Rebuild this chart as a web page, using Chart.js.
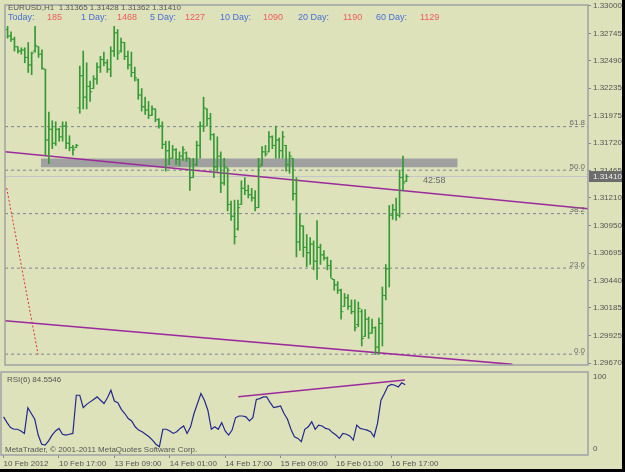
<!DOCTYPE html>
<html>
<head>
<meta charset="utf-8">
<script src="https://cdn.jsdelivr.net/npm/chart.js@4.4.1/dist/chart.umd.min.js"></script>
<style>
    body { margin: 0; background: #000; }
    #wrap { position: relative; width: 622px; height: 469px; background: #dde2ba; overflow: hidden; font-family: "Liberation Sans", Arial, sans-serif; }
    canvas { position: absolute; left: 0; }
    #mainChart { top: 0; }
    #rsiChart { top: 370px; }
    .t { position: absolute; white-space: nowrap; font-size: 8px; line-height: 8px; color: #555; }
    .b { color: #4a6fd6; font-size: 9px; line-height: 9px; }
    .r { color: #ee5c5c; font-size: 9px; line-height: 9px; }
</style>
</head>
<body>
<div id="wrap">
    <canvas id="mainChart" width="622" height="370"></canvas>
    <canvas id="rsiChart" width="622" height="99"></canvas>

    <div class="t" id="header" style="left:8px; top:4px;"></div>
    <div class="t b" style="left:8px; top:13px;">Today:</div>
    <div class="t r" style="left:47px; top:13px;">185</div>
    <div class="t b" style="left:81px; top:13px;">1 Day:</div>
    <div class="t r" style="left:117px; top:13px;">1468</div>
    <div class="t b" style="left:150px; top:13px;">5 Day:</div>
    <div class="t r" style="left:185px; top:13px;">1227</div>
    <div class="t b" style="left:220px; top:13px;">10 Day:</div>
    <div class="t r" style="left:263px; top:13px;">1090</div>
    <div class="t b" style="left:298px; top:13px;">20 Day:</div>
    <div class="t r" style="left:343px; top:13px;">1190</div>
    <div class="t b" style="left:376px; top:13px;">60 Day:</div>
    <div class="t r" style="left:420px; top:13px;">1129</div>

    <div class="t" style="left:423px; top:176px; font-size:9px; color:#6a6a6a;">42:58</div>

    <div class="t" id="rsiTitle" style="left:7px; top:376px;"></div>
    <div class="t" style="left:593px; top:373px;">100</div>
    <div class="t" style="left:593px; top:445px;">0</div>
    <div class="t" style="left:5px; top:446px;">MetaTrader, © 2001-2011 MetaQuotes Software Corp.</div>
</div>

<script>
// EURUSD H1, one entry per bar
var opens = [
    1.3278, 1.3272, 1.3269, 1.3262, 1.3258, 1.3259, 1.3252, 1.3245, 1.3258, 1.3262,
    1.3255, 1.3241, 1.3175, 1.3185, 1.3172, 1.3185, 1.3178, 1.3188, 1.3172, 1.3168,
    1.3168, 1.3205, 1.3235, 1.3215, 1.3225, 1.3223, 1.3232, 1.3243, 1.3250, 1.3247,
    1.3241, 1.3258, 1.3275, 1.3258, 1.3266, 1.3253, 1.3245, 1.3238, 1.3231, 1.3217,
    1.3206, 1.3203, 1.3198, 1.3204, 1.3194, 1.3188, 1.3171, 1.3165, 1.3158, 1.3166,
    1.3157, 1.3160, 1.3163, 1.3158, 1.3140, 1.3152, 1.3170, 1.3188, 1.3204, 1.3195,
    1.3180, 1.3150, 1.3160, 1.3135, 1.3149, 1.3115, 1.3104, 1.3092, 1.3115, 1.3130,
    1.3128, 1.3124, 1.3121, 1.3112, 1.3152, 1.3164, 1.3164, 1.3178, 1.3170, 1.3175,
    1.3165, 1.3170, 1.3152, 1.3158, 1.3125, 1.3080, 1.3095, 1.3075, 1.3070, 1.3078,
    1.3062, 1.3075, 1.3068, 1.3065, 1.3058, 1.3045, 1.3040, 1.3035, 1.3020, 1.3028,
    1.3020, 1.3015, 1.3003, 1.3015, 1.2992, 1.3008, 1.2995, 1.3000, 1.2982, 1.3004,
    1.3030, 1.3055, 1.3105, 1.3110, 1.3105, 1.3140, 1.31365
];
var highs = [
    1.3281, 1.3276, 1.3271, 1.3262, 1.3261, 1.3261, 1.3266, 1.3257, 1.3281, 1.3262,
    1.3259, 1.3241, 1.3201, 1.3193, 1.3192, 1.3186, 1.3192, 1.3192, 1.3179, 1.3170,
    1.3171, 1.3244, 1.3258, 1.3247, 1.3230, 1.3235, 1.3247, 1.3253, 1.3257, 1.3250,
    1.3262, 1.3281, 1.3278, 1.3270, 1.3266, 1.3258, 1.3257, 1.3243, 1.3232, 1.3223,
    1.3215, 1.3211, 1.3207, 1.3204, 1.3195, 1.3192, 1.3174, 1.3174, 1.3170, 1.3167,
    1.3164, 1.3169, 1.3164, 1.3158, 1.3158, 1.3174, 1.3192, 1.3215, 1.3204, 1.3200,
    1.3181, 1.3178, 1.3164, 1.3158, 1.3149, 1.3118, 1.3119, 1.3119, 1.3137, 1.3140,
    1.3133, 1.3130, 1.3128, 1.3158, 1.3169, 1.3170, 1.3183, 1.3179, 1.3188, 1.3177,
    1.3183, 1.3170, 1.3164, 1.3158, 1.3140, 1.3106, 1.3095, 1.3087, 1.3084, 1.3081,
    1.3100, 1.3078, 1.3072, 1.3066, 1.3063, 1.3045, 1.3043, 1.3036, 1.3032, 1.3031,
    1.3026, 1.3026, 1.3024, 1.3017, 1.3017, 1.3010, 1.3008, 1.3001, 1.3009, 1.3038,
    1.3059, 1.3114, 1.3115, 1.3121, 1.3147, 1.3160, 1.31428
];
var lows = [
    1.3270, 1.3267, 1.3258, 1.3256, 1.3255, 1.3247, 1.3238, 1.3236, 1.3257, 1.3252,
    1.3241, 1.3161, 1.3153, 1.3167, 1.3170, 1.3174, 1.3174, 1.3167, 1.3165, 1.3161,
    1.3168, 1.3200, 1.3204, 1.3204, 1.3211, 1.3223, 1.3227, 1.3238, 1.3244, 1.3238,
    1.3234, 1.3253, 1.3250, 1.3257, 1.3250, 1.3241, 1.3234, 1.3230, 1.3213, 1.3202,
    1.3199, 1.3195, 1.3198, 1.3192, 1.3186, 1.3167, 1.3146, 1.3152, 1.3158, 1.3152,
    1.3151, 1.3156, 1.3155, 1.3128, 1.3140, 1.3151, 1.3158, 1.3183, 1.3188, 1.3175,
    1.3140, 1.3146, 1.3126, 1.3133, 1.3109, 1.3100, 1.3078, 1.3091, 1.3115, 1.3124,
    1.3121, 1.3118, 1.3109, 1.3112, 1.3151, 1.3160, 1.3164, 1.3167, 1.3158, 1.3158,
    1.3158, 1.3146, 1.3144, 1.3119, 1.3066, 1.3072, 1.3066, 1.3057, 1.3059, 1.3054,
    1.3045, 1.3059, 1.3063, 1.3054, 1.3047, 1.3035, 1.3032, 1.3008, 1.3020, 1.3017,
    1.3013, 1.2997, 1.3001, 1.2983, 1.2992, 1.2990, 1.2995, 1.2975, 1.2976, 1.2983,
    1.3026, 1.3038, 1.3101, 1.3100, 1.3103, 1.3128, 1.31362
];
var closes = [
    1.3272, 1.3269, 1.3262, 1.3258, 1.3259, 1.3252, 1.3245, 1.3256, 1.3263, 1.3255,
    1.3242, 1.3175, 1.3185, 1.3172, 1.3185, 1.3178, 1.3188, 1.3172, 1.3168, 1.3166,
    1.3170, 1.3235, 1.3215, 1.3225, 1.3220, 1.3232, 1.3243, 1.3250, 1.3247, 1.3241,
    1.3258, 1.3275, 1.3256, 1.3266, 1.3253, 1.3245, 1.3238, 1.3233, 1.3217, 1.3206,
    1.3203, 1.3198, 1.3204, 1.3194, 1.3188, 1.3171, 1.3165, 1.3158, 1.3166, 1.3157,
    1.3160, 1.3166, 1.3158, 1.3140, 1.3152, 1.3170, 1.3188, 1.3205, 1.3195, 1.3180,
    1.3150, 1.3160, 1.3135, 1.3150, 1.3115, 1.3104, 1.3085, 1.3112, 1.3130, 1.3128,
    1.3124, 1.3121, 1.3112, 1.3150, 1.3164, 1.3162, 1.3178, 1.3170, 1.3175, 1.3165,
    1.3178, 1.3152, 1.3160, 1.3125, 1.3080, 1.3095, 1.3075, 1.3070, 1.3078, 1.3062,
    1.3075, 1.3068, 1.3065, 1.3058, 1.3046, 1.3040, 1.3035, 1.3015, 1.3028, 1.3020,
    1.3015, 1.3000, 1.3018, 1.2990, 1.3008, 1.2995, 1.3000, 1.2982, 1.3004, 1.3030,
    1.3055, 1.3105, 1.3110, 1.3105, 1.3140, 1.3135, 1.31410
];
var rsiValues = [
    46, 39, 33, 31, 31, 29, 26, 57, 50, 43,
    24, 13, 12, 17, 24, 29, 32, 25, 24, 25,
    26, 72, 72, 57, 61, 64, 67, 70, 66, 62,
    69, 78, 65, 63, 55, 50, 44, 41, 34, 30,
    28, 25, 22, 18, 13, 10, 31, 31, 29, 26,
    28, 32, 35, 26, 34, 50, 62, 74, 66, 54,
    31, 34, 31, 39, 29, 24, 30, 45, 47, 47,
    46, 41, 45, 67, 68, 70, 70, 63, 57, 58,
    59, 50, 43, 31, 22, 20, 16, 31, 34, 40,
    31, 36, 35, 32, 31, 27, 24, 20, 26, 25,
    23, 18, 36, 32, 31, 30, 28, 22, 38, 66,
    74, 83, 85, 84, 82, 87, 84.5546
];

var priceTicks = [1.33000, 1.32745, 1.32490, 1.32235, 1.31975, 1.31720, 1.31465,
    1.31210, 1.30950, 1.30695, 1.30440, 1.30185, 1.29925, 1.29670];
var dateTicks = [0, 16, 32, 48, 64, 80, 96, 112];
var dateLabels = ['10 Feb 2012', '10 Feb 17:00', '13 Feb 09:00', '14 Feb 01:00',
    '14 Feb 17:00', '15 Feb 09:00', '16 Feb 01:00', '16 Feb 17:00'];

var fibLevels = [0.0, 23.6, 38.2, 50.0, 61.8];
var fibPrices = [1.29754, 1.30556, 1.31064, 1.31469, 1.31875];

// drawn objects: [bar index, price] end points
var upperTrend = [[-0.75, 1.31640], [168.8, 1.31110]];
var lowerTrend = [[-0.75, 1.30066], [146.8, 1.29659]];
var fibAnchor = [[-0.26, 1.31303], [8.87, 1.29752]];
var rsiTrend = [[67.8, 70.2], [115.9, 90.4]];
var zoneX = [9.65, 130.9];
var zoneTop = 1.31579;
var zoneBottom = 1.31497;

var xMin = -0.75, xMax = 168.8;
var priceMin = 1.29653, priceMax = 1.33009;

var green = '#359a35';
var purple = '#9c2a9c';
var frameColor = '#9ea2a6';
var textColor = '#555';
var font = '"Liberation Sans", Arial, sans-serif';

Chart.defaults.font.family = font;
Chart.defaults.font.size = 8;
Chart.defaults.animation = false;

var last = closes.length - 1;
document.getElementById('header').innerHTML = 'EURUSD,H1&nbsp;&nbsp;' +
    [opens[last], highs[last], lows[last], closes[last]].map(function (v) { return v.toFixed(5); }).join(' ');
document.getElementById('rsiTitle').textContent = 'RSI(6) ' + rsiValues[last].toFixed(4);

function seg(points) {
    return points.map(function (p) { return { x: p[0], y: p[1] }; });
}

function flatLine(y) {
    return [{ x: xMin, y: y }, { x: xMax, y: y }];
}

var frame = {
    id: 'frame',
    afterDraw: function (chart) {
        var a = chart.chartArea, ctx = chart.ctx;
        ctx.save();
        ctx.strokeStyle = frameColor;
        ctx.lineWidth = 1.5;
        ctx.strokeRect(a.left, a.top, a.right - a.left, a.bottom - a.top);
        ctx.restore();
    }
};

var mainOverlay = {
    id: 'mainOverlay',
    afterDraw: function (chart) {
        var ctx = chart.ctx, a = chart.chartArea, y = chart.scales.y;
        ctx.save();
        ctx.font = '8px ' + font;
        ctx.fillStyle = '#6a6a6a';
        ctx.textAlign = 'right';
        ctx.textBaseline = 'alphabetic';
        fibLevels.forEach(function (lv, k) {
            ctx.fillText(lv.toFixed(1), a.right - 3, y.getPixelForValue(fibPrices[k]) - 1.5);
        });

        var py = y.getPixelForValue(closes[last]);
        ctx.fillStyle = '#6c6c6c';
        ctx.fillRect(a.right + 1, py - 5.5, chart.width - a.right - 1, 11);
        ctx.fillStyle = '#f2f2f2';
        ctx.textAlign = 'left';
        ctx.textBaseline = 'middle';
        ctx.fillText(closes[last].toFixed(5), a.right + 5, py + 0.5);
        ctx.restore();
    }
};

var barData = lows.map(function (l, i) { return { x: i, y: [l, highs[i]] }; });
var openTicks = opens.map(function (v, i) { return { x: i - 0.3, y: v }; });
var closeTicks = closes.map(function (v, i) { return { x: i + 0.3, y: v }; });

var fibSets = fibPrices.map(function (p) {
    return {
        type: 'line', data: flatLine(p), borderColor: '#7d8490', borderWidth: 1,
        borderDash: [3, 3], pointRadius: 0, order: 6
    };
});

new Chart(document.getElementById('mainChart'), {
    type: 'bar',
    data: {
        datasets: [
            { type: 'scatter', data: openTicks, pointStyle: 'line', radius: 1.2, borderColor: green, borderWidth: 1, order: 0 },
            { type: 'scatter', data: closeTicks, pointStyle: 'line', radius: 1.2, borderColor: green, borderWidth: 1, order: 0 },
            { type: 'bar', data: barData, backgroundColor: green, barThickness: 1, borderWidth: 0, order: 1 },
            { type: 'line', data: seg(upperTrend), borderColor: purple, borderWidth: 1.5, pointRadius: 0, order: 2 },
            { type: 'line', data: seg(lowerTrend), borderColor: purple, borderWidth: 1.5, pointRadius: 0, order: 2 },
            { type: 'line', data: seg(fibAnchor), borderColor: '#e03030', borderWidth: 1, borderDash: [2, 2], pointRadius: 0, order: 3 },
            { type: 'line', data: flatLine(closes[last]), borderColor: '#c2c6c8', borderWidth: 1, pointRadius: 0, order: 4 },
            {
                type: 'line', data: [{ x: zoneX[0], y: zoneTop }, { x: zoneX[1], y: zoneTop }],
                borderWidth: 0, pointRadius: 0, fill: { value: zoneBottom },
                backgroundColor: '#a0a0a0', order: 7
            }
        ].concat(fibSets)
    },
    options: {
        responsive: false,
        events: [],
        layout: { padding: { left: 1, top: 5, bottom: 1, right: 0 } },
        plugins: { legend: { display: false }, tooltip: { enabled: false } },
        scales: {
            x: { type: 'linear', display: false, min: xMin, max: xMax, offset: false },
            y: {
                position: 'right', min: priceMin, max: priceMax,
                afterBuildTicks: function (s) {
                    s.ticks = priceTicks.map(function (v) { return { value: v }; });
                },
                afterFit: function (s) { s.width = 34; s.paddingTop = 0; s.paddingBottom = 0; },
                ticks: {
                    color: textColor, padding: 2, font: { size: 8 },
                    callback: function (v) { return v.toFixed(5); }
                },
                grid: { drawOnChartArea: false, tickLength: 3, color: '#888' },
                border: { display: false }
            }
        }
    },
    plugins: [frame, mainOverlay]
});

new Chart(document.getElementById('rsiChart'), {
    type: 'line',
    data: {
        datasets: [
            {
                data: rsiValues.map(function (v, i) { return { x: i, y: v }; }),
                borderColor: '#23288f', borderWidth: 1.2, pointRadius: 0, tension: 0
            },
            { data: seg(rsiTrend), borderColor: purple, borderWidth: 1.5, pointRadius: 0 }
        ]
    },
    options: {
        responsive: false,
        events: [],
        layout: { padding: { left: 1, top: 2, right: 34, bottom: 0 } },
        plugins: { legend: { display: false }, tooltip: { enabled: false } },
        scales: {
            x: {
                type: 'linear', min: xMin, max: xMax, offset: false,
                afterBuildTicks: function (s) {
                    s.ticks = dateTicks.map(function (v) { return { value: v }; });
                },
                afterFit: function (s) { s.height = 14; s.paddingLeft = 0; s.paddingRight = 0; },
                ticks: {
                    color: textColor, padding: 1, align: 'start', autoSkip: false, maxRotation: 0,
                    font: { size: 8 },
                    callback: function (v) { return dateLabels[dateTicks.indexOf(v)]; }
                },
                grid: { drawOnChartArea: false, tickLength: 3, color: '#888' },
                border: { display: false }
            },
            y: { display: false, min: 0, max: 100 }
        }
    },
    plugins: [frame]
});
</script>
</body>
</html>
